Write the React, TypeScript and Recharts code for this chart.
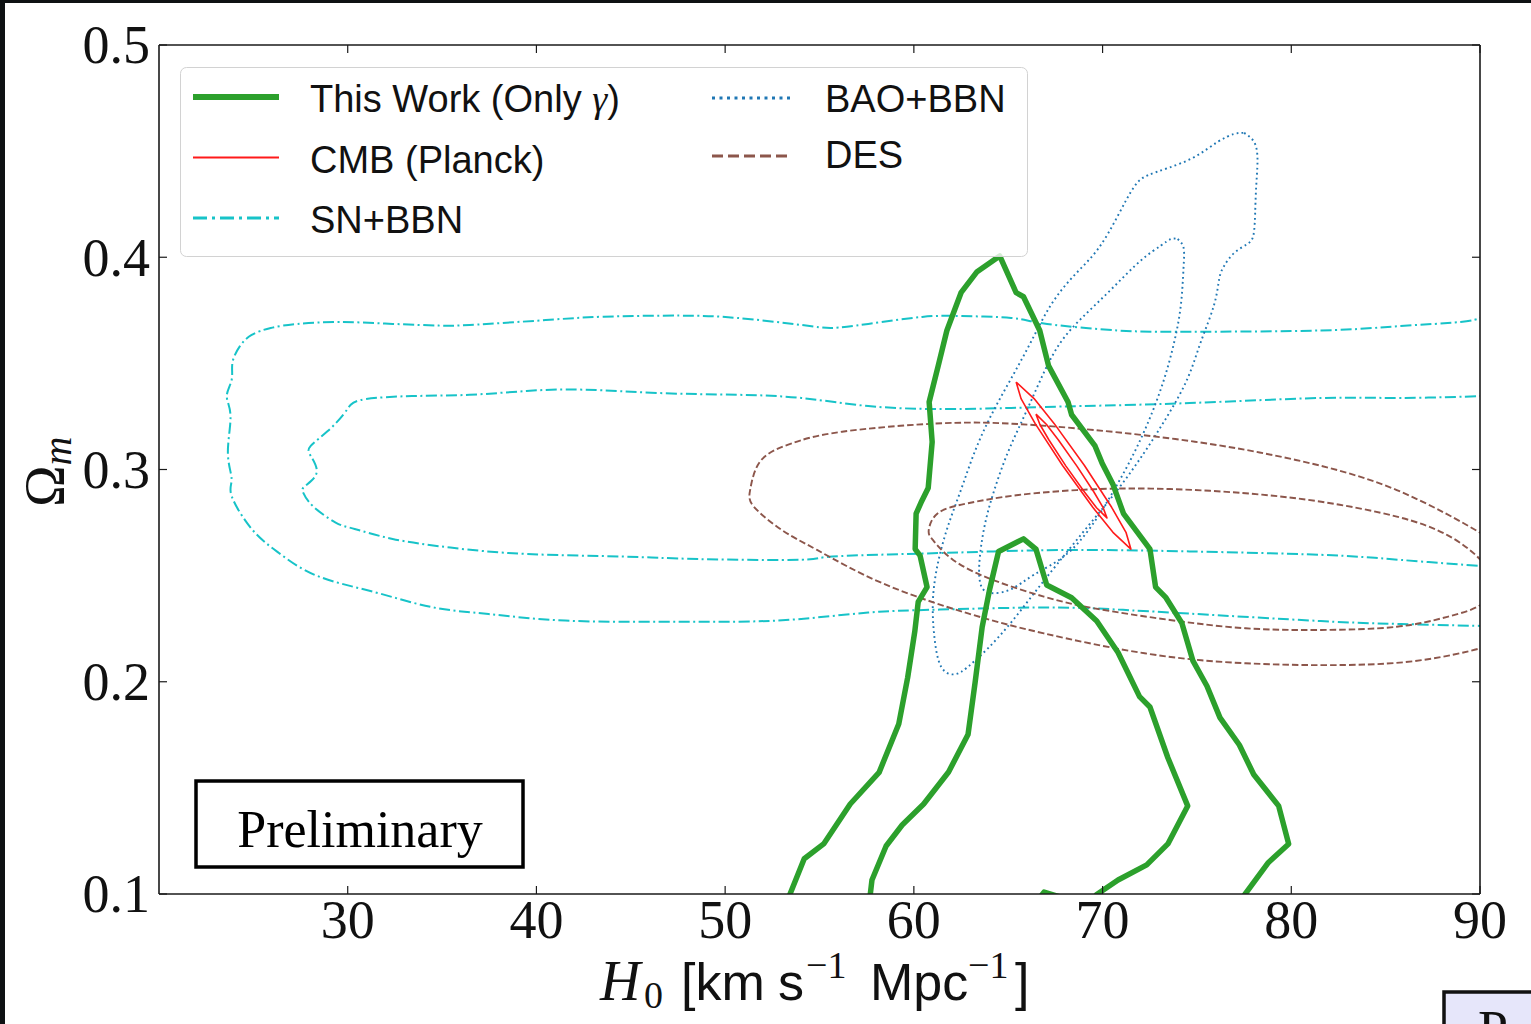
import React from 'react'
import { ComposedChart, Line, XAxis, YAxis } from 'recharts'

type Pt = [number, number]

const xTicks = [30, 40, 50, 60, 70, 80, 90]
const yTicks = [0.1, 0.2, 0.3, 0.4, 0.5]

// This Work (only gamma): 2 sigma and 1 sigma contours, [H0, Omega_m]
const thisWorkOuter: Pt[] = [
  [53.0, 0.09], [53.43, 0.0998], [54.19, 0.1166], [55.22, 0.1236], [56.63, 0.1424], [58.16, 0.1573],
  [59.2, 0.1801], [59.67, 0.2019], [60.05, 0.2237], [60.23, 0.2376], [60.7, 0.2446], [60.33, 0.2594],
  [60.07, 0.2625], [60.12, 0.2792], [60.42, 0.2852], [60.76, 0.2913], [60.97, 0.313], [60.81, 0.3318],
  [61.29, 0.3488], [61.75, 0.3655], [62.5, 0.3833], [63.35, 0.3932], [64.55, 0.4006], [65.42, 0.3833],
  [65.81, 0.3814], [66.67, 0.3655], [67.14, 0.3488], [68.17, 0.3318], [68.36, 0.3258], [69.6, 0.3111],
  [69.97, 0.3031], [70.54, 0.2932], [71.11, 0.2792], [72.51, 0.2625], [72.81, 0.2446], [73.36, 0.2396],
  [74.2, 0.2277], [74.79, 0.2098], [75.53, 0.198], [76.22, 0.1831], [77.25, 0.1702], [78.01, 0.1563],
  [79.33, 0.1415], [79.86, 0.1236], [78.76, 0.1146], [77.54, 0.0998], [77.0, 0.09],
]
const thisWorkInner: Pt[] = [
  [57.6, 0.09], [57.69, 0.0998], [57.78, 0.1066], [58.53, 0.1226], [59.38, 0.1325], [60.52, 0.1424],
  [61.84, 0.1575], [62.87, 0.1751], [63.25, 0.1999], [63.62, 0.2258], [64.02, 0.2437], [64.49, 0.2614],
  [65.81, 0.2673], [66.47, 0.2625], [67.04, 0.2456], [68.36, 0.2396], [69.69, 0.2286], [70.82, 0.2138],
  [71.96, 0.193], [72.51, 0.1881], [73.46, 0.1642], [74.51, 0.1415], [73.46, 0.1236], [72.34, 0.1137],
  [70.82, 0.1066], [69.69, 0.0998], [69.2, 0.094], [67.6, 0.099], [66.9, 0.1009], [66.3, 0.094],
]

// CMB (Planck)
const cmbOuter: Pt[] = [
  [65.42, 0.3412], [66.37, 0.3334], [67.44, 0.3216], [69.04, 0.3019], [70.48, 0.2822], [71.24, 0.2704],
  [71.5, 0.2625], [70.55, 0.2704], [69.48, 0.2822], [67.88, 0.3019], [66.43, 0.3216], [65.68, 0.3334],
  [65.42, 0.3412],
]
const cmbInner: Pt[] = [
  [66.47, 0.3261], [67.03, 0.3212], [67.66, 0.3139], [68.64, 0.3016], [69.54, 0.2894], [70.03, 0.282],
  [70.23, 0.2772], [69.68, 0.282], [69.04, 0.2894], [68.06, 0.3016], [67.16, 0.3139], [66.68, 0.3212],
  [66.47, 0.3261],
]

// SN+BBN
const snOuter: Pt[] = [
  [90.56, 0.3723], [90.03, 0.3714], [88.97, 0.3695], [85.8, 0.3676], [81.56, 0.3655], [74.61, 0.3649],
  [70.82, 0.3655], [67.06, 0.3686], [65.15, 0.3714], [62.5, 0.3723], [60.44, 0.3719], [57.58, 0.3686],
  [55.67, 0.3667], [54.03, 0.3681], [50.64, 0.3714], [47.58, 0.3725], [43.55, 0.372], [40.5, 0.3704],
  [36.46, 0.3681], [34.82, 0.3678], [32.38, 0.3686], [29.57, 0.3695], [27.34, 0.3686], [25.92, 0.3667],
  [24.91, 0.3634], [24.28, 0.358], [23.89, 0.3502], [23.85, 0.3422], [23.59, 0.3346], [23.79, 0.3252],
  [23.65, 0.3078], [23.85, 0.2955], [23.85, 0.2875], [24.91, 0.272], [26.32, 0.2609], [28.35, 0.25],
  [31.39, 0.2423], [34.43, 0.2352], [37.46, 0.2319], [41.52, 0.2288], [46.57, 0.2283], [50.64, 0.2283],
  [54.03, 0.2296], [57.58, 0.2326], [61.37, 0.234], [67.06, 0.235], [70.82, 0.234], [74.61, 0.2321],
  [81.56, 0.2286], [85.8, 0.2272], [90.03, 0.2263], [90.56, 0.2262],
]
const snInner: Pt[] = [
  [90.56, 0.3351], [90.03, 0.3346], [85.8, 0.3337], [81.56, 0.3337], [74.61, 0.3313], [68.91, 0.3299],
  [65.15, 0.329], [61.37, 0.3285], [57.58, 0.3299], [54.03, 0.3337], [50.64, 0.3352], [46.57, 0.336],
  [42.53, 0.3376], [39.48, 0.337], [36.46, 0.3352], [33.41, 0.3346], [30.98, 0.3332], [30.16, 0.3305],
  [29.77, 0.3259], [28.94, 0.3181], [28.04, 0.3111], [28.04, 0.3064], [28.35, 0.2984], [27.74, 0.2922],
  [27.64, 0.2891], [28.15, 0.2828], [29.36, 0.275], [30.37, 0.272], [32.38, 0.2673], [35.44, 0.2632],
  [39.48, 0.2602], [44.56, 0.259], [48.61, 0.2578], [54.03, 0.2575], [55.67, 0.259], [60.44, 0.2604],
  [64.2, 0.2614], [68.91, 0.2621], [74.61, 0.2614], [81.56, 0.2598], [85.8, 0.2574], [90.03, 0.2545],
  [90.56, 0.2542],
]

// BAO+BBN
const baoOuter: Pt[] = [
  [77.5, 0.4586], [78.03, 0.4543], [78.21, 0.4455], [78.12, 0.4298], [78.03, 0.4124], [77.68, 0.4063],
  [76.97, 0.402], [76.44, 0.3959], [76.18, 0.3898], [75.91, 0.3776], [75.21, 0.3602], [74.5, 0.3428],
  [73.45, 0.3254], [72.21, 0.308], [70.8, 0.2905], [69.21, 0.2731], [67.62, 0.2557], [66.38, 0.2418],
  [65.15, 0.2279], [63.92, 0.2157], [62.86, 0.207], [62.15, 0.2035], [61.45, 0.207], [61.09, 0.2209],
  [61.01, 0.2383], [61.27, 0.2557], [61.8, 0.2731], [62.5, 0.2905], [63.21, 0.308], [64.09, 0.3254],
  [65.15, 0.3428], [66.21, 0.3602], [67.27, 0.3776], [68.5, 0.3915], [69.74, 0.4037], [70.8, 0.4194],
  [71.68, 0.4333], [72.39, 0.4386], [73.45, 0.442], [74.86, 0.4472], [76.09, 0.4543], [76.97, 0.4581],
  [77.5, 0.4586],
]
const baoInner: Pt[] = [
  [73.98, 0.4086], [74.29, 0.4046], [74.29, 0.395], [74.15, 0.3776], [73.8, 0.3602], [73.27, 0.3428],
  [72.56, 0.3254], [71.68, 0.308], [70.62, 0.2905], [69.39, 0.2731], [67.97, 0.2592], [66.38, 0.2505],
  [65.15, 0.2436], [64.09, 0.2418], [63.56, 0.2453], [63.47, 0.2557], [63.74, 0.2731], [64.27, 0.2905],
  [64.98, 0.308], [65.86, 0.3254], [66.74, 0.3428], [67.8, 0.3602], [69.21, 0.3741], [70.62, 0.3863],
  [72.03, 0.3985], [73.09, 0.4055], [73.62, 0.4086], [73.98, 0.4086],
]

// DES
const desOuter: Pt[] = [
  [91.09, 0.2644], [90.03, 0.2701], [85.59, 0.2903], [80.24, 0.3045], [74.89, 0.3131], [69.56, 0.3186],
  [65.55, 0.3214], [61.55, 0.3218], [56.2, 0.3178], [53.53, 0.3123], [51.92, 0.3045], [51.34, 0.2911],
  [51.52, 0.2825], [53.0, 0.2715], [54.87, 0.2621], [58.34, 0.2464], [62.87, 0.2322], [66.89, 0.2228],
  [72.23, 0.2134], [77.58, 0.2087], [82.92, 0.2079], [86.93, 0.2102], [90.03, 0.2158], [91.09, 0.2197],
]
const desInner: Pt[] = [
  [90.9, 0.2456], [90.03, 0.2574], [88.27, 0.2691], [85.59, 0.2778], [81.59, 0.2848], [77.58, 0.2888],
  [73.57, 0.2908], [69.56, 0.2907], [65.55, 0.288], [62.87, 0.2841], [61.27, 0.2794], [60.79, 0.2715],
  [61.01, 0.2668], [62.08, 0.2574], [64.21, 0.2479], [66.89, 0.2401], [69.56, 0.2346], [73.57, 0.2291],
  [77.58, 0.2252], [81.59, 0.2244], [85.59, 0.2259], [88.27, 0.2306], [90.03, 0.2362], [90.9, 0.2456],
]

const toRows = (pts: Pt[]) => pts.map(([h0, om]) => ({ h0, om }))

const AXIS = '#1a1a1a'
const serif = '"Liberation Serif", "DejaVu Serif", serif'
const sans = '"Liberation Sans", Arial, sans-serif'

const GREEN = '#2ca02c'
const RED = '#ff1a1a'
const CYAN = '#17c3c8'
const BLUE = '#1f77b4'
const BROWN = '#8c564b'

// line styles used in the plot
const contours = [
  { key: 'snOuter', pts: snOuter, stroke: CYAN, width: 2, dash: '11 3.5 2 3.5', curve: 'natural' },
  { key: 'snInner', pts: snInner, stroke: CYAN, width: 2, dash: '11 3.5 2 3.5', curve: 'natural' },
  { key: 'baoOuter', pts: baoOuter, stroke: BLUE, width: 1.9, dash: '1.8 3.2', curve: 'natural' },
  { key: 'baoInner', pts: baoInner, stroke: BLUE, width: 1.9, dash: '1.8 3.2', curve: 'natural' },
  { key: 'desOuter', pts: desOuter, stroke: BROWN, width: 1.9, dash: '6.5 3', curve: 'natural' },
  { key: 'desInner', pts: desInner, stroke: BROWN, width: 1.9, dash: '6.5 3', curve: 'natural' },
  { key: 'twOuter', pts: thisWorkOuter, stroke: GREEN, width: 5.5, dash: undefined, curve: 'linear' },
  { key: 'twInner', pts: thisWorkInner, stroke: GREEN, width: 5.5, dash: undefined, curve: 'linear' },
  { key: 'cmbOuter', pts: cmbOuter, stroke: RED, width: 1.6, dash: undefined, curve: 'linear' },
  { key: 'cmbInner', pts: cmbInner, stroke: RED, width: 1.6, dash: undefined, curve: 'linear' },
]

// legend entries
const legendLeft = [
  { label: 'This Work (Only ', math: 'γ', stroke: GREEN, width: 6, dash: undefined },
  { label: 'CMB (Planck)', math: '', stroke: RED, width: 2, dash: undefined },
  { label: 'SN+BBN', math: '', stroke: CYAN, width: 3.2, dash: '14 5 3 5' },
]
const legendRight = [
  { label: 'BAO+BBN', stroke: BLUE, width: 3, dash: '3 4.5' },
  { label: 'DES', stroke: BROWN, width: 3, dash: '11 5' },
]

function BottomTick(props: any) {
  const { x, y, payload } = props
  return (
    <g>
      <line x1={x} x2={x} y1={y - 26} y2={y - 34} stroke={AXIS} strokeWidth={1.2} />
      <text x={x} y={y} dy="0.34em" textAnchor="middle" fontFamily={serif} fontSize={54} fill="#111">
        {payload.value}
      </text>
    </g>
  )
}

function LeftTick(props: any) {
  const { x, y, payload } = props
  return (
    <g>
      <line x1={x + 9} x2={x + 17} y1={y} y2={y} stroke={AXIS} strokeWidth={1.2} />
      <text x={x} y={y} dy="0.34em" textAnchor="end" fontFamily={serif} fontSize={54} fill="#111">
        {Number(payload.value).toFixed(1)}
      </text>
    </g>
  )
}

function TopTick(props: any) {
  const { x, y } = props
  return <line x1={x} x2={x} y1={y} y2={y + 8} stroke={AXIS} strokeWidth={1.2} />
}

function RightTick(props: any) {
  const { x, y } = props
  return <line x1={x} x2={x - 8} y1={y} y2={y} stroke={AXIS} strokeWidth={1.2} />
}

function Overlay() {
  return (
    <svg width={1531} height={1024} style={{ position: 'absolute', left: 0, top: 0, pointerEvents: 'none' }}>
      {/* legend */}
      <rect x={180.5} y={67.5} width={847} height={189} rx={6} fill="#fff" fillOpacity={0.8} stroke="#d2d2d2" />
      {legendLeft.map((d, i) => (
        <g key={d.label}>
          <line x1={193} x2={279} y1={97 + i * 60.5} y2={97 + i * 60.5} stroke={d.stroke} strokeWidth={d.width} strokeDasharray={d.dash} />
          <text x={310} y={112 + i * 60.5} fontFamily={sans} fontSize={38} fill="#111">
            {d.label}
            {d.math && (
              <>
                <tspan fontFamily={serif} fontStyle="italic">{d.math}</tspan>
                <tspan>)</tspan>
              </>
            )}
          </text>
        </g>
      ))}
      {legendRight.map((d, i) => (
        <g key={d.label}>
          <line x1={712} x2={792} y1={98 + i * 58} y2={98 + i * 58} stroke={d.stroke} strokeWidth={d.width} strokeDasharray={d.dash} />
          <text x={825} y={112 + i * 56} fontFamily={sans} fontSize={38} fill="#111">{d.label}</text>
        </g>
      ))}

      {/* watermark box */}
      <rect x={196} y={781} width={327} height={86} fill="#fff" stroke="#000" strokeWidth={3.5} />
      <text x={360} y={847} textAnchor="middle" fontFamily={serif} fontSize={52} fill="#000">Preliminary</text>

      {/* y axis label */}
      <text transform="translate(64,507) rotate(-90)" fontFamily={serif} fontSize={56} fill="#111">
        Ω<tspan fontStyle="italic" fontSize={40} dy={7}>m</tspan>
      </text>

      {/* x axis label */}
      <text x={600} y={1000} fontFamily={serif} fontStyle="italic" fontSize={56} fill="#111">H</text>
      <text x={644} y={1008} fontFamily={serif} fontSize={38} fill="#111">0</text>
      <text x={681} y={1000} fontFamily={sans} fontSize={52} fill="#111">[km</text>
      <text x={778} y={1000} fontFamily={sans} fontSize={52} fill="#111">s</text>
      <text x={806} y={978} fontFamily={serif} fontSize={38} fill="#111">−1</text>
      <text x={870} y={1000} fontFamily={sans} fontSize={52} fill="#111">Mpc</text>
      <text x={968} y={978} fontFamily={serif} fontSize={38} fill="#111">−1</text>
      <text x={1015} y={1000} fontFamily={sans} fontSize={52} fill="#111">]</text>

      {/* neighbouring slide element at the corner */}
      <rect x={1444} y={992} width={120} height={60} fill="#e6e6fa" stroke="#111" strokeWidth={3.5} />
      <text x={1478} y={1048} fontFamily={serif} fontSize={54} fill="#111">P</text>
    </svg>
  )
}

export default function App() {
  return (
    <div style={{ position: 'absolute', left: 0, top: 0, width: 1531, height: 1024, overflow: 'hidden', background: '#0e1113' }}>
      <div style={{ position: 'absolute', left: 5, top: 3, right: 0, bottom: 0, background: '#fff' }} />
      <div style={{ position: 'absolute', left: 0, top: 0 }}>
        <ComposedChart width={1531} height={1024} margin={{ top: 35, right: 41, bottom: 70, left: 0 }}>
          <XAxis
            dataKey="h0"
            type="number"
            domain={[20, 90]}
            ticks={xTicks}
            interval={0}
            allowDataOverflow
            height={60}
            tickSize={0}
            tickMargin={26}
            tickLine={false}
            axisLine={{ stroke: AXIS, strokeWidth: 1.6 }}
            tick={<BottomTick />}
          />
          <XAxis
            xAxisId="top"
            orientation="top"
            dataKey="h0"
            type="number"
            domain={[20, 90]}
            ticks={xTicks}
            interval={0}
            allowDataOverflow
            height={10}
            tickSize={0}
            tickMargin={0}
            tickLine={false}
            axisLine={{ stroke: AXIS, strokeWidth: 1.6 }}
            tick={<TopTick />}
          />
          <YAxis
            dataKey="om"
            type="number"
            domain={[0.1, 0.5]}
            ticks={yTicks}
            interval={0}
            allowDataOverflow
            width={159}
            tickSize={0}
            tickMargin={9}
            tickLine={false}
            axisLine={{ stroke: AXIS, strokeWidth: 1.6 }}
            tick={<LeftTick />}
          />
          <YAxis
            yAxisId="right"
            orientation="right"
            dataKey="om"
            type="number"
            domain={[0.1, 0.5]}
            ticks={yTicks}
            interval={0}
            allowDataOverflow
            width={10}
            tickSize={0}
            tickMargin={0}
            tickLine={false}
            axisLine={{ stroke: AXIS, strokeWidth: 1.6 }}
            tick={<RightTick />}
          />
          {contours.map((c) => (
            <Line
              key={c.key}
              data={toRows(c.pts)}
              dataKey="om"
              type={c.curve as any}
              stroke={c.stroke}
              strokeWidth={c.width}
              strokeDasharray={c.dash}
              strokeLinejoin="round"
              dot={false}
              activeDot={false}
              legendType="none"
              isAnimationActive={false}
            />
          ))}
        </ComposedChart>
      </div>
      <Overlay />
    </div>
  )
}
